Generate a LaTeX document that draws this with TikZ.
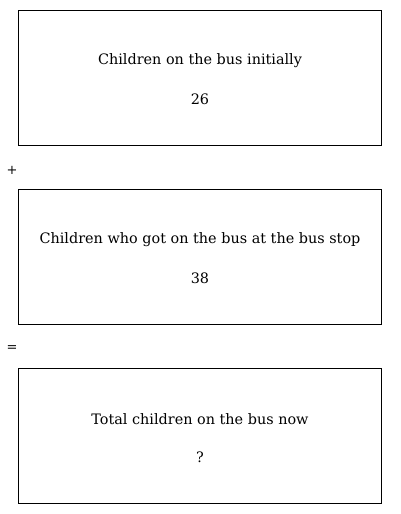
\documentclass[tikz,border=0pt]{standalone}
\usepackage{fontspec}
\setmainfont{DejaVu Serif}
\begin{document}
\begin{tikzpicture}[x=1pt,y=-1pt,
  box/.style={draw,line width=0.8pt,minimum width=363pt,minimum height=135pt,anchor=north west,inner sep=0pt},
  lbl/.style={font=\fontsize{14.4}{16}\selectfont,inner sep=0pt},
  op/.style={font=\fontsize{13}{14}\selectfont,inner sep=0pt}]
\useasboundingbox (0,0) rectangle (400,514);
\node[box] (b1) at (18,10) {};
\node[box] (b2) at (18,189) {};
\node[box] (b3) at (18,368) {};
\node[lbl] (t1) at (200,61) {Children on the bus initially};
\node[lbl] (n1) at (200,99.5) {26};
\node[lbl] (t2) at (200,240) {Children who got on the bus at the bus stop};
\node[lbl] (n2) at (200,278.5) {38};
\node[lbl] (t3) at (200,419) {Total children on the bus now};
\node[lbl] (n3) at (200,457.5) {?};
\node[op] (plus) at (12,170) {+};
\node[op] (eq) at (12,349) {=};
\end{tikzpicture}
\end{document}
